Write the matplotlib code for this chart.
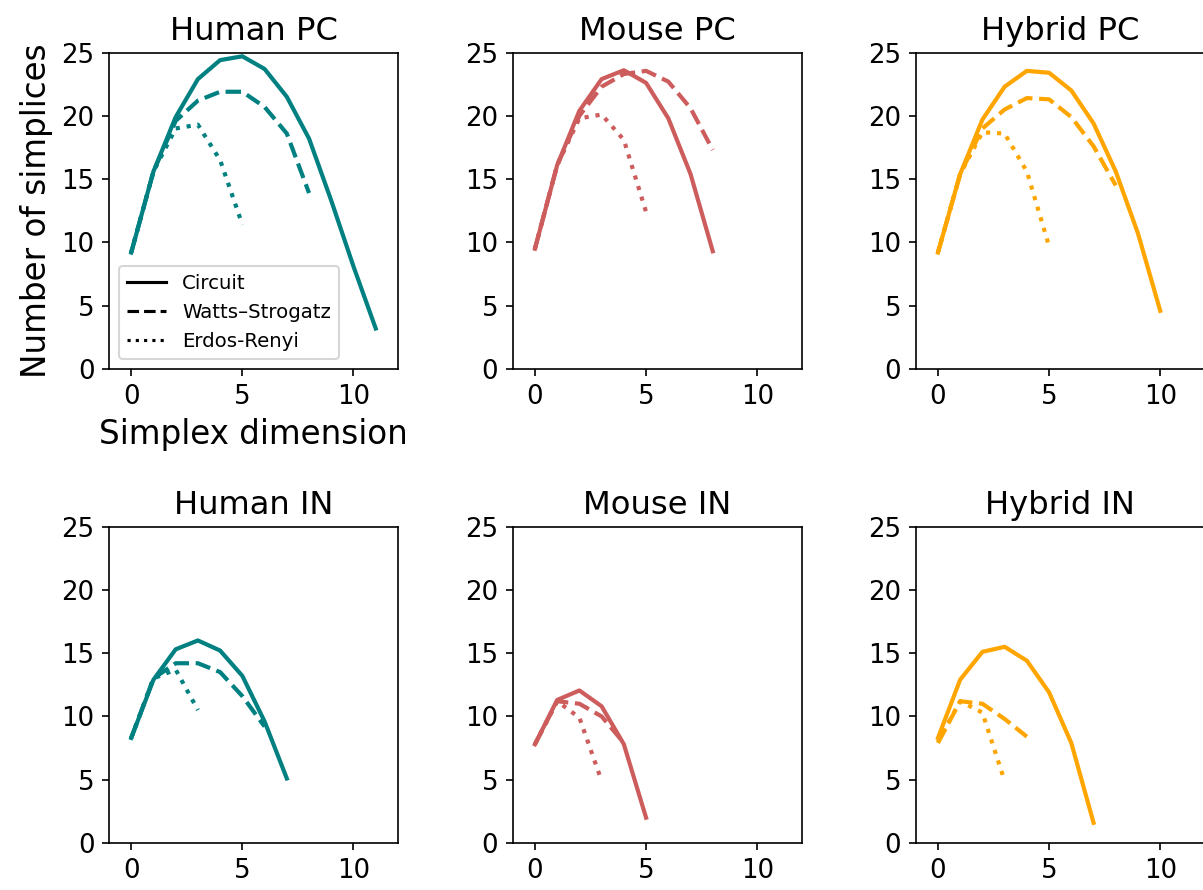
import matplotlib.pyplot as plt

# simplex counts (log scale values) per circuit, dimension 0..n
human_pc_circuit = [9.2, 15.6, 19.9, 22.9, 24.4, 24.7, 23.7, 21.5, 18.2, 13.3, 8.1, 3.2]
human_pc_ws = [9.2, 15.6, 19.6, 21.2, 21.9, 21.9, 20.7, 18.6, 13.9]
human_pc_er = [9.2, 15.6, 19.0, 19.3, 16.5, 11.4]

mouse_pc_circuit = [9.5, 16.1, 20.4, 22.9, 23.6, 22.6, 19.8, 15.4, 9.3]
mouse_pc_ws = [9.5, 16.1, 20.0, 22.3, 23.3, 23.55, 22.7, 20.6, 17.3]
mouse_pc_er = [9.5, 16.1, 19.8, 20.1, 18.1, 12.4]

hybrid_pc_circuit = [9.2, 15.4, 19.7, 22.3, 23.55, 23.4, 22.0, 19.4, 15.6, 10.7, 4.6]
hybrid_pc_ws = [9.2, 15.4, 19.0, 20.5, 21.4, 21.3, 19.9, 17.6, 14.5]
hybrid_pc_er = [9.2, 15.4, 18.7, 18.6, 15.6, 9.7]

human_in_circuit = [8.3, 12.9, 15.3, 16.0, 15.2, 13.2, 9.6, 5.1]
human_in_ws = [8.3, 13.0, 14.2, 14.2, 13.5, 11.6, 9.2]
human_in_er = [8.3, 13.0, 13.7, 10.5]

mouse_in_circuit = [7.8, 11.3, 12.05, 10.8, 7.8, 2.0]
mouse_in_ws = [7.8, 11.2, 11.0, 10.0, 7.9]
mouse_in_er = [7.8, 11.2, 9.9, 4.9]

hybrid_in_circuit = [8.3, 12.9, 15.1, 15.5, 14.4, 11.9, 7.9, 1.6]
hybrid_in_ws = [7.9, 11.2, 11.0, 9.8, 8.4]
hybrid_in_er = [8.0, 11.2, 10.3, 4.9]

titles = ["Human PC", "Mouse PC", "Hybrid PC", "Human IN", "Mouse IN", "Hybrid IN"]
colors = ["teal", "indianred", "orange", "teal", "indianred", "orange"]
series = [
    (human_pc_circuit, human_pc_ws, human_pc_er),
    (mouse_pc_circuit, mouse_pc_ws, mouse_pc_er),
    (hybrid_pc_circuit, hybrid_pc_ws, hybrid_pc_er),
    (human_in_circuit, human_in_ws, human_in_er),
    (mouse_in_circuit, mouse_in_ws, mouse_in_er),
    (hybrid_in_circuit, hybrid_in_ws, hybrid_in_er),
]

fig = plt.figure(figsize=(1203 / 150, 890 / 150), dpi=150)
lefts = [0.0906, 0.4262, 0.7612]
bottoms = [0.5854, 0.0528]
w, h = 0.2402, 0.3556

for i, (title, col, (circ, ws, er)) in enumerate(zip(titles, colors, series)):
    ax = fig.add_axes([lefts[i % 3], bottoms[i // 3], w, h])
    ax.plot(range(len(circ)), circ, color=col, lw=2, ls="-")
    ax.plot(range(len(ws)), ws, color=col, lw=2, ls="--")
    ax.plot(range(len(er)), er, color=col, lw=2, ls=":")
    ax.set_xlim(-1, 12)
    ax.set_ylim(0, 25)
    ax.set_xticks([0, 5, 10])
    ax.set_yticks([0, 5, 10, 15, 20, 25])
    ax.tick_params(labelsize=12.5)
    ax.set_title(title, fontsize=15.5)
    if i == 0:
        ax.set_xlabel("Simplex dimension", fontsize=15.7)
        ax.set_ylabel("Number of simplices", fontsize=15.7)
        # legend just shows line styles
        ax.plot([], [], color="k", ls="-", label="Circuit")
        ax.plot([], [], color="k", ls="--", label="Watts\u2013Strogatz")
        ax.plot([], [], color="k", ls=":", label="Erdos-Renyi")
        handles, labels = ax.get_legend_handles_labels()
        ax.legend(handles[-3:], labels[-3:], loc="lower left", fontsize=9.5)

fig.savefig("out.png", dpi=150)
